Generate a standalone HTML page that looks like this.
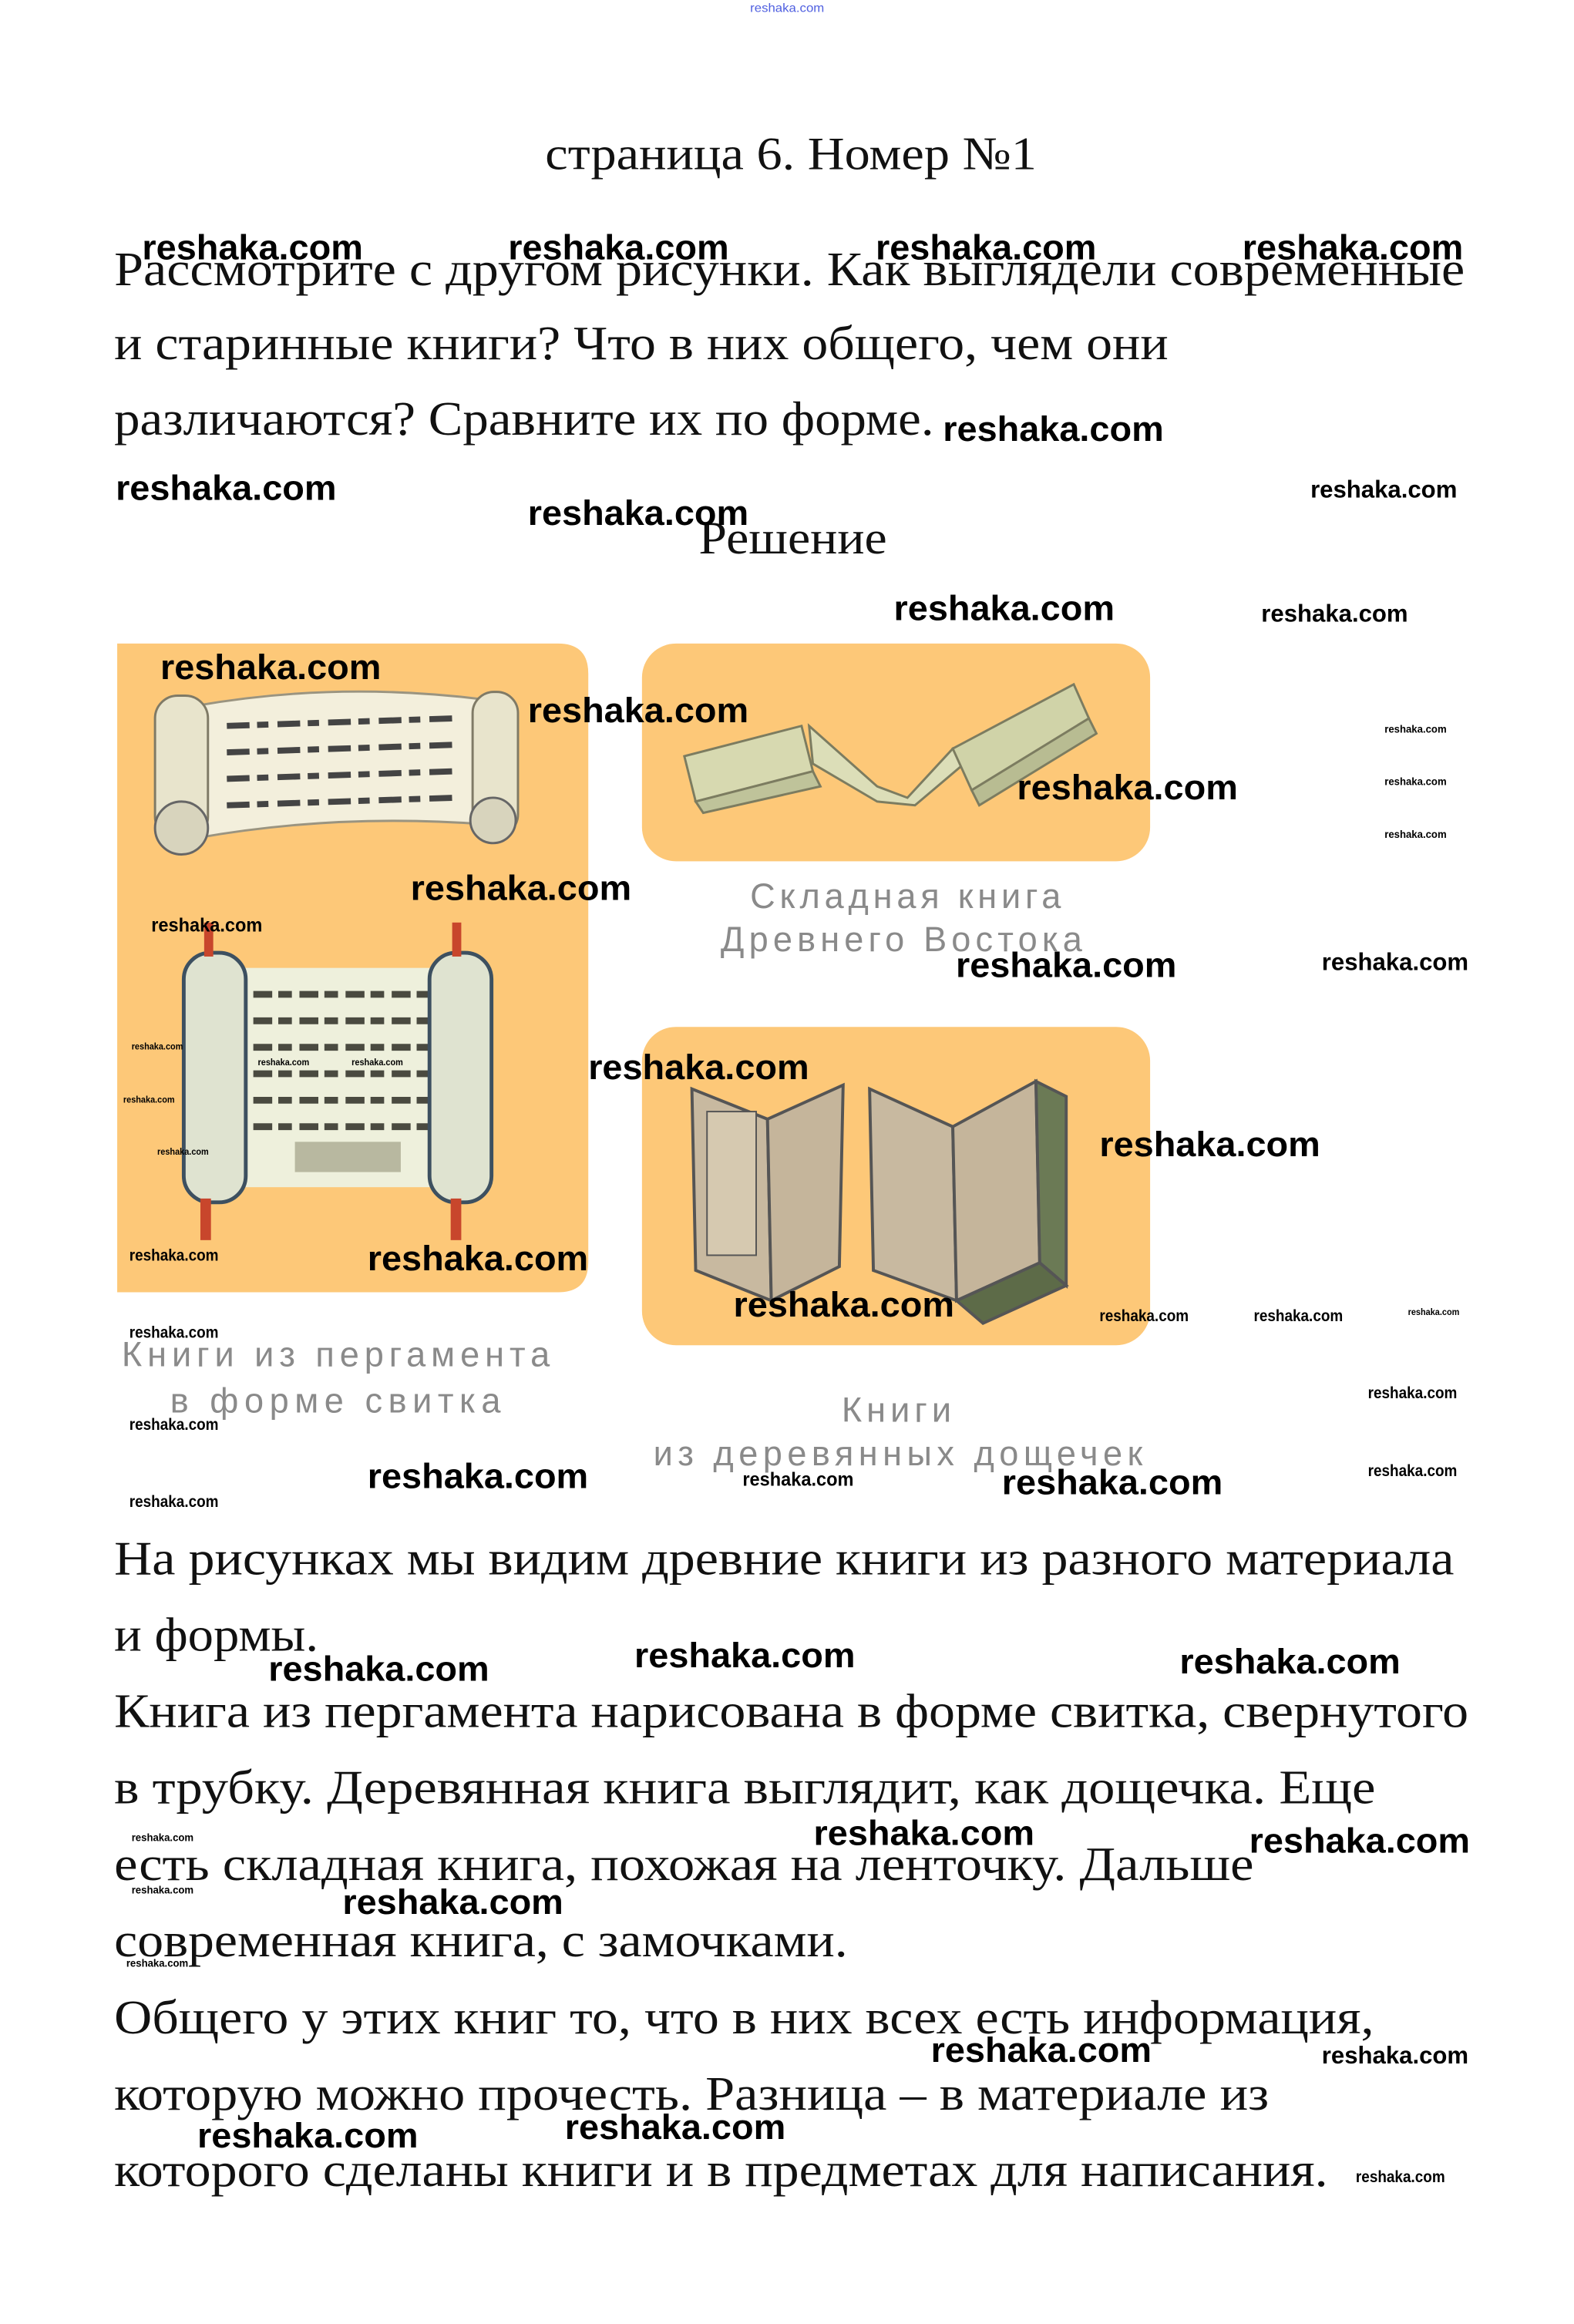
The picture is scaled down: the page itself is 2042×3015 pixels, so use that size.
<!DOCTYPE html>
<html><head><meta charset="utf-8"><style>
html,body{margin:0;padding:0;background:#fff}
svg{display:block}
.t{font-family:"Liberation Serif",serif;fill:#111}
.w{font-family:"Liberation Sans",sans-serif;font-weight:bold;fill:#000}
.c{font-family:"Liberation Sans",sans-serif;fill:#8a8a8a;font-size:46px}
</style></head><body>
<svg width="2042" height="3015" viewBox="0 0 2042 3015" xmlns="http://www.w3.org/2000/svg">
<g transform="scale(0.981)">
<text x="992" y="16" font-family="Liberation Sans,sans-serif" font-size="16" fill="#5060e0" textLength="98" lengthAdjust="spacingAndGlyphs">reshaka.com</text>

<text class="t" x="721" y="224" font-size="62" textLength="650" lengthAdjust="spacingAndGlyphs">страница 6. Номер №1</text>
<text class="t" x="151" y="377" font-size="64" textLength="1786" lengthAdjust="spacingAndGlyphs">Рассмотрите с другом рисунки. Как выглядели современные</text>
<text class="t" x="151" y="475" font-size="64" textLength="1394" lengthAdjust="spacingAndGlyphs">и старинные книги? Что в них общего, чем они</text>
<text class="t" x="151" y="575" font-size="64" textLength="1084" lengthAdjust="spacingAndGlyphs">различаются? Сравните их по форме.</text>
<text class="t" x="924" y="732" font-size="62" textLength="249" lengthAdjust="spacingAndGlyphs">Решение</text>

<path d="M155 851 H738 Q778 851 778 891 V1669 Q778 1709 738 1709 H155 Z" fill="#fdc878"/>
<rect x="849" y="851" width="672" height="288" rx="45" fill="#fdc878"/>
<rect x="849" y="1358" width="672" height="421" rx="45" fill="#fdc878"/>

<g>
<path d="M250 935 Q440 900 640 925 L640 1090 Q440 1075 250 1110 Z" fill="#f3efdc" stroke="#9a9480" stroke-width="3"/>
<rect x="205" y="920" width="70" height="190" rx="30" fill="#e8e4cc" stroke="#7f7a66" stroke-width="3"/>
<circle cx="240" cy="1095" r="35" fill="#d8d4bd" stroke="#666" stroke-width="3"/>
<rect x="625" y="915" width="60" height="190" rx="28" fill="#e8e4cc" stroke="#7f7a66" stroke-width="3"/>
<circle cx="652" cy="1085" r="30" fill="#d8d4bd" stroke="#666" stroke-width="3"/>
<g stroke="#444" stroke-width="8" stroke-dasharray="30 10 15 12">
<line x1="300" y1="960" x2="600" y2="950"/><line x1="300" y1="995" x2="600" y2="985"/>
<line x1="300" y1="1030" x2="600" y2="1020"/><line x1="300" y1="1065" x2="600" y2="1055"/>
</g>
</g>
<g>
<rect x="300" y="1280" width="320" height="290" fill="#eef0dc"/>
<g stroke="#4a4a40" stroke-width="9" stroke-dasharray="25 8 18 10">
<line x1="335" y1="1315" x2="585" y2="1315"/><line x1="335" y1="1350" x2="585" y2="1350"/>
<line x1="335" y1="1385" x2="585" y2="1385"/><line x1="335" y1="1420" x2="585" y2="1420"/>
<line x1="335" y1="1455" x2="585" y2="1455"/><line x1="335" y1="1490" x2="585" y2="1490"/>
</g>
<rect x="390" y="1510" width="140" height="40" fill="#b8b8a0"/>
<rect x="243" y="1260" width="82" height="330" rx="35" fill="#dfe3d0" stroke="#3d5060" stroke-width="5"/>
<rect x="568" y="1260" width="82" height="330" rx="35" fill="#dfe3d0" stroke="#3d5060" stroke-width="5"/>
<rect x="270" y="1220" width="12" height="45" fill="#c8462c"/><rect x="598" y="1220" width="12" height="45" fill="#c8462c"/>
<rect x="265" y="1585" width="14" height="55" fill="#c8462c"/><rect x="596" y="1585" width="14" height="55" fill="#c8462c"/>
</g>
<g stroke="#7c7c60" stroke-width="3">
<polygon points="905,1000 1060,960 1075,1020 920,1060" fill="#d7d9b0"/>
<polygon points="920,1060 1075,1020 1085,1040 930,1075" fill="#bfc39a"/>
<polygon points="1070,960 1160,1040 1200,1055 1260,990 1275,1010 1210,1065 1160,1060 1075,1010" fill="#dcdeb8"/>
<polygon points="1260,990 1420,905 1440,950 1285,1045" fill="#d0d3a8"/>
<polygon points="1285,1045 1440,950 1450,970 1295,1065" fill="#b8bc92"/>
</g>
<g stroke="#555" stroke-width="4">
<polygon points="915,1440 1015,1480 1020,1720 920,1680" fill="#c8b9a0"/>
<polygon points="1015,1480 1115,1435 1110,1675 1020,1720" fill="#c5b59b"/>
<rect x="935" y="1470" width="65" height="190" fill="#d6c9b0" stroke-width="2"/>
<polygon points="1150,1440 1260,1490 1265,1720 1155,1680" fill="#c8b9a0"/>
<polygon points="1260,1490 1370,1430 1375,1670 1265,1720" fill="#c5b59b"/>
<polygon points="1370,1430 1410,1450 1410,1700 1375,1670" fill="#6b7a55"/>
<polygon points="1265,1720 1375,1670 1410,1700 1300,1750" fill="#5d6b48"/>
</g>

<text class="c" x="992" y="1201" textLength="411" lengthAdjust="spacing">Складная книга</text>
<text class="c" x="953" y="1258" textLength="478" lengthAdjust="spacing">Древнего Востока</text>
<text class="c" x="161" y="1807" textLength="566" lengthAdjust="spacing">Книги из пергамента</text>
<text class="c" x="225" y="1868" textLength="437" lengthAdjust="spacing">в форме свитка</text>
<text class="c" x="1113" y="1880" textLength="145" lengthAdjust="spacing">Книги</text>
<text class="c" x="864" y="1938" textLength="647" lengthAdjust="spacing">из деревянных дощечек</text>

<text class="t" x="151" y="2082" font-size="64" textLength="1772" lengthAdjust="spacingAndGlyphs">На рисунках мы видим древние книги из разного материала</text>
<text class="t" x="151" y="2183" font-size="64" textLength="270" lengthAdjust="spacingAndGlyphs">и формы.</text>
<text class="t" x="151" y="2284" font-size="64" textLength="1791" lengthAdjust="spacingAndGlyphs">Книга из пергамента нарисована в форме свитка, свернутого</text>
<text class="t" x="151" y="2385" font-size="64" textLength="1668" lengthAdjust="spacingAndGlyphs">в трубку. Деревянная книга выглядит, как дощечка. Еще</text>
<text class="t" x="151" y="2486" font-size="64" textLength="1507" lengthAdjust="spacingAndGlyphs">есть складная книга, похожая на ленточку. Дальше</text>
<text class="t" x="151" y="2587" font-size="64" textLength="970" lengthAdjust="spacingAndGlyphs">современная книга, с замочками.</text>
<text class="t" x="151" y="2689" font-size="64" textLength="1666" lengthAdjust="spacingAndGlyphs">Общего у этих книг то, что в них всех есть информация,</text>
<text class="t" x="151" y="2790" font-size="64" textLength="1527" lengthAdjust="spacingAndGlyphs">которую можно прочесть. Разница – в материале из</text>
<text class="t" x="151" y="2891" font-size="64" textLength="1605" lengthAdjust="spacingAndGlyphs">которого сделаны книги и в предметах для написания.</text>

<g class="w" font-size="46">
<text x="188" y="343" textLength="292" lengthAdjust="spacingAndGlyphs">reshaka.com</text>
<text x="672" y="343" textLength="292" lengthAdjust="spacingAndGlyphs">reshaka.com</text>
<text x="1158" y="343" textLength="292" lengthAdjust="spacingAndGlyphs">reshaka.com</text>
<text x="1643" y="343" textLength="292" lengthAdjust="spacingAndGlyphs">reshaka.com</text>
<text x="1247" y="583" textLength="292" lengthAdjust="spacingAndGlyphs">reshaka.com</text>
<text x="153" y="661" textLength="292" lengthAdjust="spacingAndGlyphs">reshaka.com</text>
<text x="698" y="694" textLength="292" lengthAdjust="spacingAndGlyphs">reshaka.com</text>
<text x="1182" y="820" textLength="292" lengthAdjust="spacingAndGlyphs">reshaka.com</text>
<text x="212" y="898" textLength="292" lengthAdjust="spacingAndGlyphs">reshaka.com</text>
<text x="698" y="955" textLength="292" lengthAdjust="spacingAndGlyphs">reshaka.com</text>
<text x="1345" y="1057" textLength="292" lengthAdjust="spacingAndGlyphs">reshaka.com</text>
<text x="543" y="1190" textLength="292" lengthAdjust="spacingAndGlyphs">reshaka.com</text>
<text x="1264" y="1292" textLength="292" lengthAdjust="spacingAndGlyphs">reshaka.com</text>
<text x="778" y="1427" textLength="292" lengthAdjust="spacingAndGlyphs">reshaka.com</text>
<text x="1454" y="1529" textLength="292" lengthAdjust="spacingAndGlyphs">reshaka.com</text>
<text x="486" y="1680" textLength="292" lengthAdjust="spacingAndGlyphs">reshaka.com</text>
<text x="970" y="1741" textLength="292" lengthAdjust="spacingAndGlyphs">reshaka.com</text>
<text x="486" y="1968" textLength="292" lengthAdjust="spacingAndGlyphs">reshaka.com</text>
<text x="1325" y="1976" textLength="292" lengthAdjust="spacingAndGlyphs">reshaka.com</text>
<text x="355" y="2223" textLength="292" lengthAdjust="spacingAndGlyphs">reshaka.com</text>
<text x="839" y="2205" textLength="292" lengthAdjust="spacingAndGlyphs">reshaka.com</text>
<text x="1560" y="2213" textLength="292" lengthAdjust="spacingAndGlyphs">reshaka.com</text>
<text x="1076" y="2440" textLength="292" lengthAdjust="spacingAndGlyphs">reshaka.com</text>
<text x="1652" y="2450" textLength="292" lengthAdjust="spacingAndGlyphs">reshaka.com</text>
<text x="453" y="2531" textLength="292" lengthAdjust="spacingAndGlyphs">reshaka.com</text>
<text x="1231" y="2727" textLength="292" lengthAdjust="spacingAndGlyphs">reshaka.com</text>
<text x="261" y="2840" textLength="292" lengthAdjust="spacingAndGlyphs">reshaka.com</text>
<text x="747" y="2829" textLength="292" lengthAdjust="spacingAndGlyphs">reshaka.com</text>
</g>
<g class="w" font-size="32">
<text x="1733" y="658" textLength="194" lengthAdjust="spacingAndGlyphs">reshaka.com</text>
<text x="1668" y="822" textLength="194" lengthAdjust="spacingAndGlyphs">reshaka.com</text>
<text x="1748" y="1283" textLength="194" lengthAdjust="spacingAndGlyphs">reshaka.com</text>
<text x="1748" y="2729" textLength="194" lengthAdjust="spacingAndGlyphs">reshaka.com</text>
</g>
<g class="w" font-size="25">
<text x="200" y="1232" textLength="147" lengthAdjust="spacingAndGlyphs">reshaka.com</text>
<text x="982" y="1965" textLength="147" lengthAdjust="spacingAndGlyphs">reshaka.com</text>
</g>
<g class="w" font-size="22">
<text x="171" y="1667" textLength="118" lengthAdjust="spacingAndGlyphs">reshaka.com</text>
<text x="1454" y="1747" textLength="118" lengthAdjust="spacingAndGlyphs">reshaka.com</text>
<text x="1658" y="1747" textLength="118" lengthAdjust="spacingAndGlyphs">reshaka.com</text>
<text x="171" y="1769" textLength="118" lengthAdjust="spacingAndGlyphs">reshaka.com</text>
<text x="171" y="1891" textLength="118" lengthAdjust="spacingAndGlyphs">reshaka.com</text>
<text x="1809" y="1849" textLength="118" lengthAdjust="spacingAndGlyphs">reshaka.com</text>
<text x="1809" y="1952" textLength="118" lengthAdjust="spacingAndGlyphs">reshaka.com</text>
<text x="171" y="1993" textLength="118" lengthAdjust="spacingAndGlyphs">reshaka.com</text>
<text x="1793" y="2886" textLength="118" lengthAdjust="spacingAndGlyphs">reshaka.com</text>
</g>
<g class="w" font-size="14">
<text x="1831" y="969" textLength="82" lengthAdjust="spacingAndGlyphs">reshaka.com</text>
<text x="1831" y="1038" textLength="82" lengthAdjust="spacingAndGlyphs">reshaka.com</text>
<text x="1831" y="1108" textLength="82" lengthAdjust="spacingAndGlyphs">reshaka.com</text>
<text x="174" y="2435" textLength="82" lengthAdjust="spacingAndGlyphs">reshaka.com</text>
<text x="174" y="2504" textLength="82" lengthAdjust="spacingAndGlyphs">reshaka.com</text>
<text x="167" y="2601" textLength="82" lengthAdjust="spacingAndGlyphs">reshaka.com</text>
</g>
<g class="w" font-size="12">
<text x="174" y="1388" textLength="68" lengthAdjust="spacingAndGlyphs">reshaka.com</text>
<text x="341" y="1409" textLength="68" lengthAdjust="spacingAndGlyphs">reshaka.com</text>
<text x="465" y="1409" textLength="68" lengthAdjust="spacingAndGlyphs">reshaka.com</text>
<text x="163" y="1458" textLength="68" lengthAdjust="spacingAndGlyphs">reshaka.com</text>
<text x="208" y="1527" textLength="68" lengthAdjust="spacingAndGlyphs">reshaka.com</text>
<text x="1862" y="1739" textLength="68" lengthAdjust="spacingAndGlyphs">reshaka.com</text>
</g>
</g>
</svg>
</body></html>
